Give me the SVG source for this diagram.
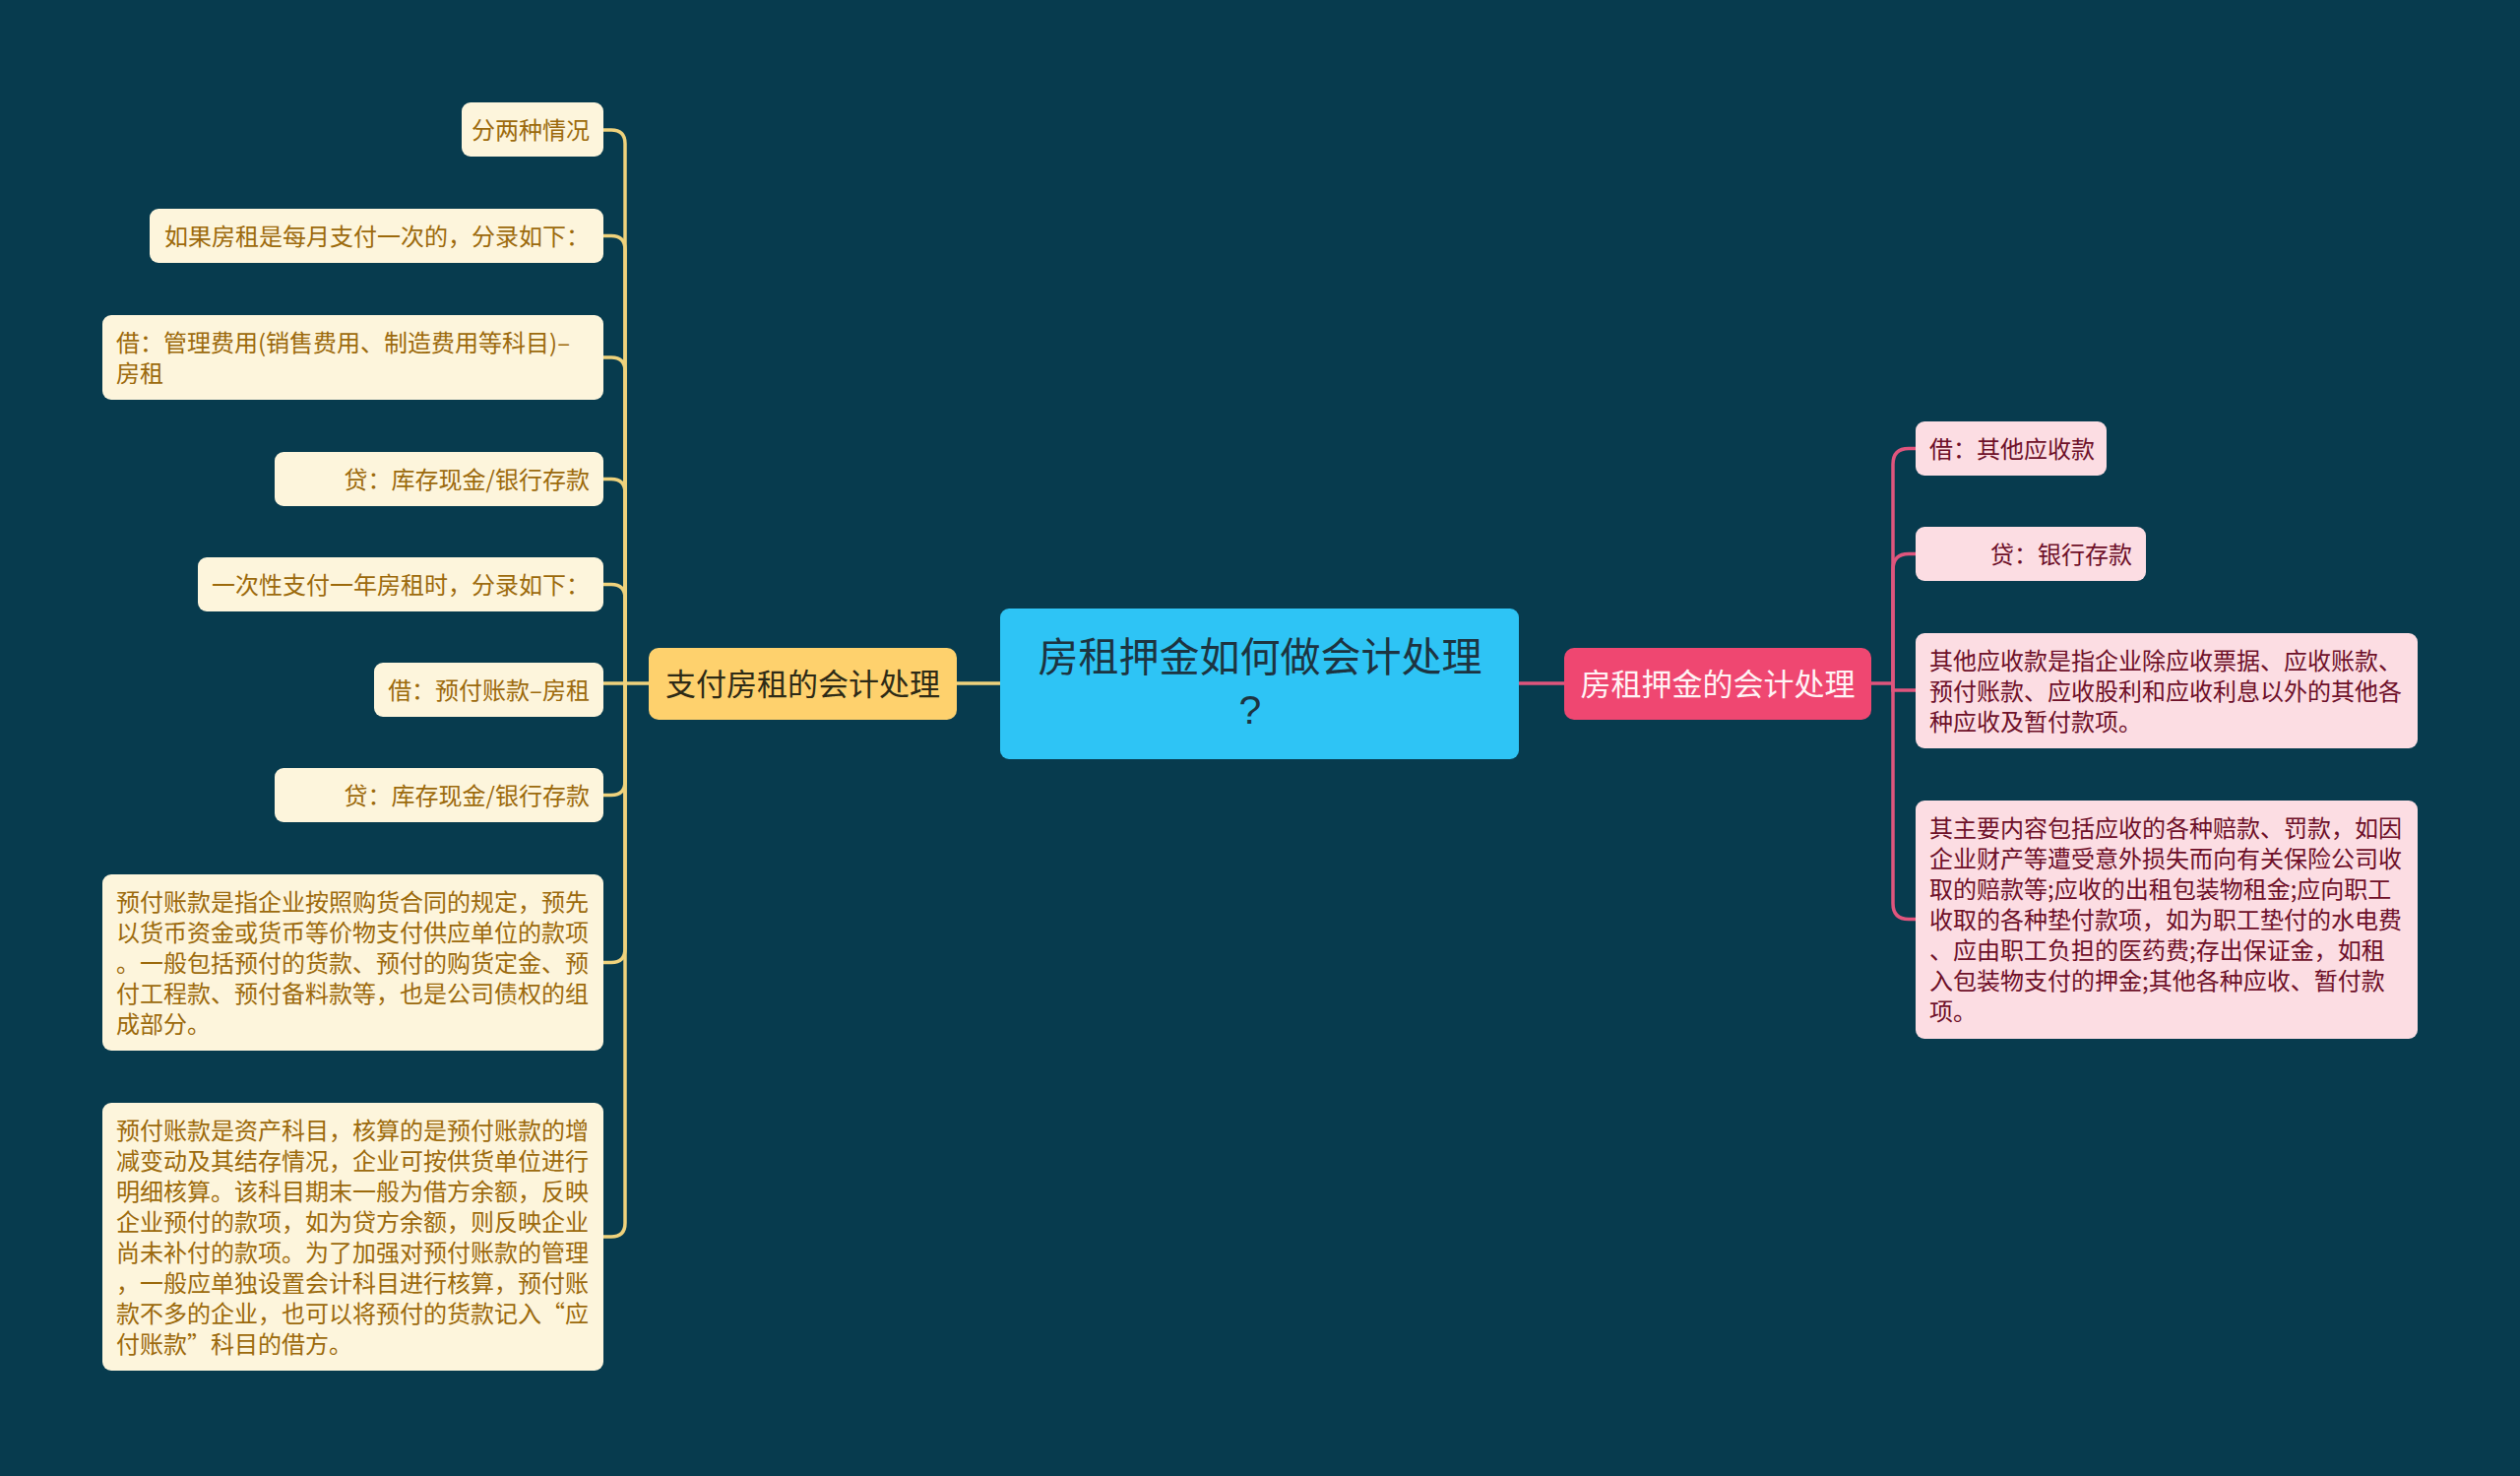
<svg xmlns="http://www.w3.org/2000/svg" width="2560" height="1499" viewBox="0 0 2560 1499">
<style>
text{font-family:"Noto Sans CJK SC","Noto Sans",sans-serif;}
.lf rect{fill:#fdf5dc;}
.lf text{fill:#9c6a0c;font-size:24px;}
.rf rect{fill:#fcdde3;}
.rf text{fill:#6e1029;font-size:24px;}
.e{text-anchor:end;}
.yc{fill:none;stroke:#efd27c;stroke-width:3.5;}
.pc{fill:none;stroke:#df557d;stroke-width:3.5;}
</style>
<rect width="2560" height="1499" fill="#073b4e"/>
<g id="connectors">
<path class="yc" d="M1016,694 H972"/>
<path class="yc" d="M659,694 H635"/>
<path class="yc" d="M635,694 V146 Q635,132 621,132 H613"/>
<path class="yc" d="M635,694 V253.5 Q635,239.5 621,239.5 H613"/>
<path class="yc" d="M635,694 V377 Q635,363 621,363 H613"/>
<path class="yc" d="M635,694 V500.5 Q635,486.5 621,486.5 H613"/>
<path class="yc" d="M635,694 V607.5 Q635,593.5 621,593.5 H613"/>
<path class="yc" d="M635,694 H613"/>
<path class="yc" d="M635,694 V793.5 Q635,807.5 621,807.5 H613"/>
<path class="yc" d="M635,694 V963.5 Q635,977.5 621,977.5 H613"/>
<path class="yc" d="M635,694 V1242 Q635,1256 621,1256 H613"/>
<path class="pc" d="M1543,694 H1589"/>
<path class="pc" d="M1901,694 H1923"/>
<path class="pc" d="M1923,694 V471.5 Q1923,455.5 1939,455.5 H1946"/>
<path class="pc" d="M1923,694 V578.5 Q1923,562.5 1939,562.5 H1946"/>
<path class="pc" d="M1923,694 V701 H1946"/>
<path class="pc" d="M1923,694 V917.5 Q1923,933.5 1939,933.5 H1946"/>
</g>
<g id="center">
<rect x="1016" y="618" width="527" height="153" rx="9" fill="#2ec4f5"/>
<text x="1280" y="682" font-size="41" fill="#1d3441" text-anchor="middle">房租押金如何做会计处理</text>
<text x="1270" y="735" font-size="41" fill="#1d3441" text-anchor="middle" style="font-family:'Liberation Sans',sans-serif">?</text>
</g>
<g id="branch-left">
<rect x="659" y="658" width="313" height="73" rx="10" fill="#fed16d"/>
<text x="815.5" y="706" font-size="31" fill="#2d2a16" text-anchor="middle">支付房租的会计处理</text>
</g>
<g id="branch-right">
<rect x="1589" y="658" width="312" height="73" rx="10" fill="#ef4771"/>
<text x="1745" y="706" font-size="31" fill="#fff3f5" text-anchor="middle">房租押金的会计处理</text>
</g>
<g id="n1" class="lf"><rect x="469" y="104" width="144" height="55" rx="9"/><text class="e" x="599" y="141">分两种情况</text></g>
<g id="n2" class="lf"><rect x="152" y="212" width="461" height="55" rx="9"/><text class="e" x="599" y="249">如果房租是每月支付一次的，分录如下：</text></g>
<g id="n3" class="lf"><rect x="104" y="320" width="509" height="86" rx="9"/><text x="118" y="357">借：管理费用(销售费用、制造费用等科目)–</text><text x="118" y="388">房租</text></g>
<g id="n4" class="lf"><rect x="279" y="459" width="334" height="55" rx="9"/><text class="e" x="599" y="496">贷：库存现金/银行存款</text></g>
<g id="n5" class="lf"><rect x="201" y="566" width="412" height="55" rx="9"/><text class="e" x="599" y="603">一次性支付一年房租时，分录如下：</text></g>
<g id="n6" class="lf"><rect x="380" y="673" width="233" height="55" rx="9"/><text class="e" x="599" y="710">借：预付账款–房租</text></g>
<g id="n7" class="lf"><rect x="279" y="780" width="334" height="55" rx="9"/><text class="e" x="599" y="817">贷：库存现金/银行存款</text></g>
<g id="n8" class="lf"><rect x="104" y="888" width="509" height="179" rx="9"/>
<text x="118" y="925">预付账款是指企业按照购货合同的规定，预先</text>
<text x="118" y="956">以货币资金或货币等价物支付供应单位的款项</text>
<text x="118" y="987">。一般包括预付的货款、预付的购货定金、预</text>
<text x="118" y="1018">付工程款、预付备料款等，也是公司债权的组</text>
<text x="118" y="1049">成部分。</text></g>
<g id="n9" class="lf"><rect x="104" y="1120" width="509" height="272" rx="9"/>
<text x="118" y="1157">预付账款是资产科目，核算的是预付账款的增</text>
<text x="118" y="1188">减变动及其结存情况，企业可按供货单位进行</text>
<text x="118" y="1219">明细核算。该科目期末一般为借方余额，反映</text>
<text x="118" y="1250">企业预付的款项，如为贷方余额，则反映企业</text>
<text x="118" y="1281">尚未补付的款项。为了加强对预付账款的管理</text>
<text x="118" y="1312">，一般应单独设置会计科目进行核算，预付账</text>
<text x="118" y="1343">款不多的企业，也可以将预付的货款记入“应</text>
<text x="118" y="1374">付账款”科目的借方。</text></g>
<g id="r1" class="rf"><rect x="1946" y="428" width="194" height="55" rx="9"/><text x="1960" y="465">借：其他应收款</text></g>
<g id="r2" class="rf"><rect x="1946" y="535" width="234" height="55" rx="9"/><text class="e" x="2166" y="572">贷：银行存款</text></g>
<g id="r3" class="rf"><rect x="1946" y="643" width="510" height="117" rx="9"/>
<text x="1960" y="680">其他应收款是指企业除应收票据、应收账款、</text>
<text x="1960" y="711">预付账款、应收股利和应收利息以外的其他各</text>
<text x="1960" y="742">种应收及暂付款项。</text></g>
<g id="r4" class="rf"><rect x="1946" y="813" width="510" height="242" rx="9"/>
<text x="1960" y="850">其主要内容包括应收的各种赔款、罚款，如因</text>
<text x="1960" y="881">企业财产等遭受意外损失而向有关保险公司收</text>
<text x="1960" y="912">取的赔款等;应收的出租包装物租金;应向职工</text>
<text x="1960" y="943">收取的各种垫付款项，如为职工垫付的水电费</text>
<text x="1960" y="974">、应由职工负担的医药费;存出保证金，如租</text>
<text x="1960" y="1005">入包装物支付的押金;其他各种应收、暂付款</text>
<text x="1960" y="1036">项。</text></g>
</svg>
